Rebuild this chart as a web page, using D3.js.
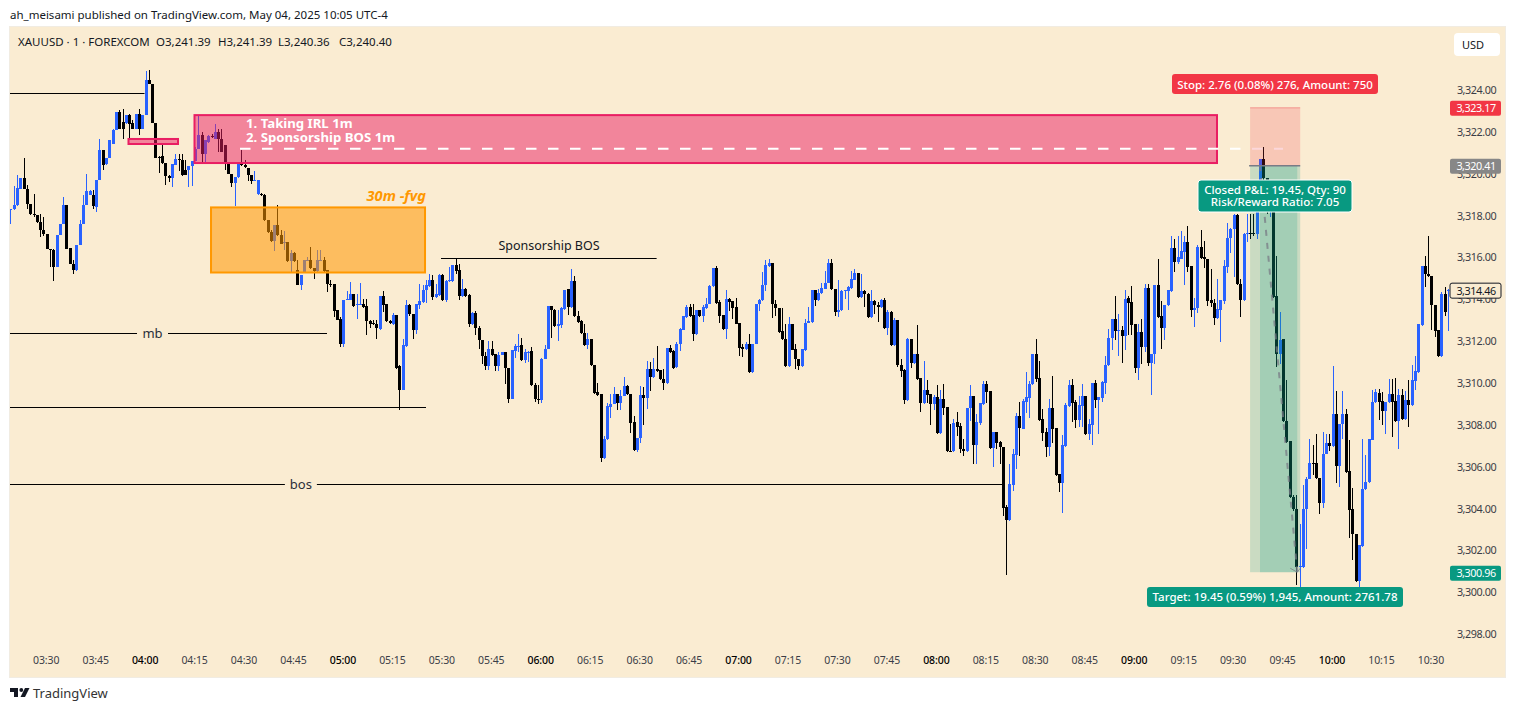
<!DOCTYPE html>
<html><head><meta charset="utf-8">
<script src="https://cdn.jsdelivr.net/npm/d3@7"></script>
<style>
html,body{margin:0;padding:0;background:#fff;overflow:hidden}
svg{display:block}
text{font-family:"Noto Sans",sans-serif}
</style></head><body>
<svg id="c" width="1515" height="711"></svg>
<script>
// OHLC rows [open, high, low, close], one small list per 15-minute block (1-minute bars)
const bars0319=[[3318.28,3318.33,3317.61,3318.33],[3318.30,3319.40,3318.25,3318.49],[3318.49,3319.92,3318.46,3319.33],[3319.25,3319.81,3319.25,3319.81],[3319.81,3320.77,3319.25,3319.25],[3319.29,3319.45,3318.33,3318.54],[3318.57,3318.57,3318.01,3318.06],[3318.06,3319.05,3317.93,3318.01],[3318.04,3318.04,3317.66,3317.71],[3317.71,3318.09,3316.98,3317.30],[3317.33,3317.93,3317.02,3317.10]];
const bars0330=[[3317.14,3317.14,3316.39,3316.42],[3316.40,3316.40,3315.54,3316.37],[3316.37,3316.40,3314.87,3315.54],[3315.54,3317.09,3315.54,3317.09],[3317.09,3317.61,3317.09,3317.61],[3317.61,3318.89,3317.61,3318.49],[3318.49,3318.52,3316.42,3316.42],[3316.45,3316.45,3315.67,3315.70],[3315.70,3315.86,3315.22,3315.38],[3315.38,3316.58,3315.35,3316.58],[3316.58,3317.77,3316.58,3317.61],[3317.61,3318.97,3317.61,3318.49],[3318.49,3320.00,3318.49,3319.16],[3319.00,3319.21,3318.97,3319.16],[3319.00,3319.21,3318.33,3318.44]];
const bars0345=[[3318.41,3319.72,3318.17,3319.72],[3319.72,3321.65,3319.72,3321.15],[3321.15,3321.15,3320.16,3320.40],[3320.45,3320.77,3320.40,3320.77],[3320.77,3321.60,3320.77,3321.60],[3321.44,3322.12,3321.44,3322.07],[3322.11,3322.95,3322.11,3322.95],[3322.95,3323.06,3322.12,3322.15],[3322.47,3323.11,3321.68,3322.15],[3322.42,3322.79,3322.39,3322.79],[3322.79,3322.87,3321.68,3322.39],[3322.42,3322.55,3322.12,3322.15],[3322.15,3322.87,3322.12,3322.87],[3322.87,3323.11,3321.84,3322.15],[3322.15,3322.79,3322.12,3322.79]];
const bars0400=[[3322.79,3324.89,3322.79,3324.46],[3324.46,3324.94,3324.27,3324.30],[3324.30,3324.30,3322.42,3322.42],[3322.42,3322.42,3320.75,3320.75],[3320.80,3320.83,3320.05,3320.77],[3320.83,3321.36,3320.48,3320.51],[3320.51,3320.51,3319.45,3319.89],[3319.89,3319.92,3319.61,3319.81],[3319.81,3320.45,3319.37,3320.45],[3320.40,3320.96,3320.40,3320.69],[3320.69,3320.96,3320.13,3320.64],[3320.64,3320.96,3319.89,3319.92],[3320.19,3320.64,3319.92,3319.95],[3320.16,3320.35,3319.37,3320.35],[3320.35,3320.59,3319.40,3320.59]];
const bars0415=[[3320.59,3321.28,3320.59,3321.20],[3321.20,3322.74,3321.20,3321.84],[3321.84,3322.00,3320.51,3320.96],[3320.96,3321.60,3320.56,3321.60],[3321.52,3321.84,3321.47,3321.79],[3321.79,3321.92,3321.72,3321.77],[3321.68,3322.39,3321.68,3322.00],[3322.00,3322.15,3321.04,3321.68],[3321.68,3322.15,3321.04,3321.04],[3321.36,3321.36,3320.16,3320.56],[3320.48,3320.48,3319.97,3319.97],[3320.00,3320.00,3319.37,3319.56],[3319.56,3319.84,3318.44,3319.84],[3319.84,3320.48,3319.81,3320.48],[3320.51,3321.12,3320.35,3320.40]];
const bars0430=[[3320.40,3320.64,3320.29,3320.32],[3320.29,3320.29,3319.65,3319.92],[3319.92,3319.92,3319.53,3319.65],[3319.69,3320.13,3319.65,3319.72],[3319.05,3319.69,3318.97,3319.69],[3319.05,3319.08,3318.94,3318.97],[3318.97,3319.05,3317.74,3317.77],[3317.81,3317.81,3317.18,3317.22],[3317.22,3317.30,3316.74,3316.77],[3316.77,3317.53,3316.31,3317.53],[3317.53,3318.49,3317.02,3317.06],[3317.06,3317.30,3316.63,3316.66],[3316.71,3317.26,3316.34,3316.74],[3316.74,3316.74,3315.80,3315.83],[3315.83,3316.34,3315.30,3316.21]];
const bars0445=[[3316.21,3316.26,3315.78,3315.81],[3315.38,3315.86,3314.67,3314.67],[3314.67,3315.18,3314.43,3315.18],[3315.30,3315.86,3315.27,3315.86],[3315.86,3316.02,3315.83,3315.89],[3315.89,3316.50,3315.47,3315.51],[3315.51,3315.51,3314.99,3315.34],[3315.35,3316.34,3315.30,3315.86],[3315.86,3316.34,3315.83,3315.88],[3315.86,3316.02,3315.32,3315.35],[3315.38,3315.38,3314.35,3314.75],[3314.75,3314.91,3314.59,3314.71],[3314.74,3314.74,3313.15,3313.44],[3313.47,3313.47,3312.99,3313.02],[3313.07,3313.15,3311.72,3311.88]];
const bars0500=[[3311.88,3313.98,3311.72,3313.98],[3313.98,3314.42,3313.95,3314.03],[3313.98,3314.85,3313.98,3314.23],[3314.23,3314.23,3313.65,3313.68],[3313.74,3314.26,3313.04,3313.77],[3313.74,3314.79,3313.71,3313.76],[3313.76,3314.03,3313.60,3313.63],[3313.66,3314.03,3312.27,3312.96],[3312.96,3312.99,3312.64,3312.83],[3312.86,3312.99,3312.78,3312.83],[3312.83,3312.99,3312.08,3312.62],[3312.59,3314.14,3312.54,3314.14],[3314.14,3314.42,3313.39,3313.74],[3313.76,3313.79,3312.93,3312.96],[3312.96,3312.99,3312.80,3312.86]];
const bars0515=[[3312.83,3313.36,3312.75,3313.23],[3313.23,3313.23,3310.68,3310.73],[3310.80,3310.84,3308.69,3309.65],[3309.65,3312.12,3309.65,3311.80],[3311.75,3313.95,3311.72,3313.71],[3313.71,3313.79,3313.19,3313.28],[3313.31,3313.31,3312.09,3312.52],[3312.52,3313.76,3312.36,3313.76],[3313.71,3314.75,3313.55,3313.90],[3313.87,3314.67,3313.82,3314.46],[3314.46,3314.91,3313.82,3314.67],[3314.64,3315.22,3314.61,3314.94],[3314.94,3315.15,3313.95,3314.11],[3314.11,3314.75,3314.08,3314.24],[3314.19,3315.19,3314.16,3315.15]];
const bars0530=[[3315.15,3315.19,3313.90,3313.95],[3313.95,3314.91,3313.87,3314.86],[3314.86,3315.54,3314.83,3314.91],[3314.87,3315.62,3314.84,3315.62],[3315.62,3315.91,3315.19,3315.34],[3315.38,3315.70,3313.95,3314.14],[3314.14,3314.99,3314.11,3314.51],[3314.51,3314.54,3314.11,3314.14],[3314.19,3314.27,3312.68,3312.80],[3312.80,3313.39,3312.77,3313.36],[3313.36,3313.42,3312.28,3312.64],[3312.64,3312.71,3311.61,3312.04],[3312.07,3312.07,3310.92,3311.27],[3311.31,3311.48,3310.61,3310.80],[3310.80,3311.99,3310.61,3311.64]];
const bars0545=[[3311.64,3312.01,3311.29,3311.32],[3311.37,3311.40,3310.57,3310.80],[3310.80,3311.48,3310.57,3311.35],[3311.35,3311.48,3311.32,3311.47],[3311.47,3311.48,3309.94,3310.72],[3310.73,3310.73,3309.04,3309.22],[3309.22,3311.56,3309.22,3311.56],[3311.51,3311.88,3311.19,3311.75],[3311.75,3312.36,3311.48,3311.78],[3311.80,3312.17,3311.05,3311.08],[3311.08,3311.64,3310.96,3311.47],[3311.47,3311.51,3311.00,3311.50],[3311.51,3311.72,3309.86,3309.89],[3309.92,3310.02,3309.09,3309.22],[3309.25,3309.89,3309.01,3309.23]];
const bars0600=[[3309.17,3311.19,3309.04,3311.16],[3311.16,3311.80,3311.13,3311.64],[3311.64,3313.66,3311.61,3313.66],[3313.66,3313.66,3312.17,3313.47],[3313.50,3313.55,3312.68,3312.71],[3312.71,3313.47,3312.01,3312.80],[3312.77,3313.63,3312.63,3313.58],[3313.52,3314.46,3313.49,3314.46],[3314.48,3314.48,3313.23,3313.63],[3313.63,3315.43,3313.60,3314.86],[3314.86,3315.10,3313.15,3313.19],[3313.22,3313.43,3312.88,3312.91],[3312.95,3313.00,3312.36,3312.39],[3312.41,3312.84,3311.77,3311.80],[3311.80,3312.41,3311.62,3312.09]];
const bars0615=[[3312.09,3312.09,3310.81,3310.84],[3310.88,3310.88,3309.49,3309.52],[3309.55,3310.02,3309.40,3309.43],[3309.46,3309.46,3306.22,3306.42],[3306.42,3307.45,3306.38,3307.34],[3307.32,3309.04,3307.29,3308.88],[3308.85,3309.46,3308.33,3309.01],[3309.01,3309.81,3308.98,3309.49],[3309.49,3309.49,3308.69,3309.04],[3309.04,3309.65,3308.69,3309.39],[3309.39,3310.29,3309.36,3309.84],[3309.84,3309.89,3309.44,3309.47],[3309.49,3309.49,3307.61,3308.09],[3308.12,3308.42,3306.75,3306.78],[3306.78,3307.39,3306.70,3307.39]];
const bars0630=[[3307.37,3309.86,3307.13,3309.41],[3309.41,3309.81,3307.98,3309.28],[3309.28,3311.03,3308.76,3310.68],[3310.68,3311.00,3309.60,3310.29],[3310.29,3311.19,3310.26,3310.68],[3310.68,3311.75,3310.54,3310.57],[3310.61,3310.64,3310.14,3310.17],[3310.21,3310.68,3309.65,3310.00],[3310.00,3311.69,3309.97,3311.69],[3311.69,3311.80,3311.45,3311.48],[3311.51,3311.56,3310.67,3310.73],[3310.76,3311.96,3310.73,3311.88],[3311.88,3312.63,3311.51,3312.56],[3312.55,3313.19,3312.52,3313.19],[3313.15,3313.71,3313.12,3313.63]];
const bars0645=[[3313.63,3313.79,3313.17,3313.20],[3313.23,3313.79,3312.01,3312.33],[3312.33,3313.50,3312.30,3313.47],[3313.47,3313.50,3313.16,3313.19],[3313.19,3313.71,3312.91,3313.63],[3313.58,3314.06,3313.55,3313.79],[3313.79,3314.67,3313.76,3314.64],[3314.64,3315.50,3314.61,3315.50],[3315.50,3315.59,3313.79,3313.82],[3313.87,3313.95,3312.87,3313.20],[3313.23,3313.26,3312.53,3312.56],[3312.56,3314.46,3312.09,3314.00],[3314.00,3314.06,3313.42,3313.87],[3313.90,3313.90,3313.07,3313.60],[3313.63,3314.06,3312.81,3312.84]];
const bars0700=[[3312.88,3312.88,3311.27,3311.67],[3311.70,3311.88,3311.24,3311.62],[3311.62,3311.96,3311.59,3311.88],[3311.88,3312.33,3310.50,3310.53],[3310.53,3311.88,3310.50,3311.88],[3311.88,3313.79,3311.85,3313.79],[3313.79,3314.01,3313.42,3313.98],[3313.95,3315.30,3313.92,3314.70],[3314.67,3315.86,3314.38,3315.62],[3315.59,3315.94,3315.56,3315.75],[3315.75,3315.75,3313.11,3313.79],[3313.79,3313.95,3313.20,3313.58],[3313.60,3313.60,3312.41,3312.44],[3312.47,3313.60,3312.07,3312.10],[3312.12,3312.80,3310.78,3310.81]];
const bars0715=[[3310.81,3313.15,3310.78,3312.80],[3312.80,3312.80,3311.56,3311.59],[3311.64,3311.88,3310.65,3311.15],[3311.16,3311.16,3310.61,3310.81],[3310.81,3311.61,3310.78,3311.61],[3311.56,3313.04,3311.53,3312.88],[3312.88,3313.63,3312.85,3312.95],[3312.91,3314.46,3312.88,3314.46],[3314.46,3314.46,3313.68,3313.95],[3313.95,3314.51,3313.92,3314.32],[3314.30,3314.79,3314.27,3314.54],[3314.51,3315.34,3314.48,3314.79],[3314.79,3315.94,3314.76,3315.75],[3315.75,3315.91,3314.45,3314.48],[3314.51,3314.51,3313.20,3313.39]];
const bars0730=[[3313.39,3314.91,3313.15,3313.50],[3313.47,3314.43,3313.44,3314.38],[3314.38,3314.46,3314.00,3314.43],[3314.40,3314.62,3313.47,3314.59],[3314.54,3315.34,3314.51,3314.95],[3314.94,3315.46,3314.91,3315.27],[3315.27,3315.27,3314.06,3314.11],[3314.11,3315.19,3314.08,3314.38],[3314.38,3314.43,3313.63,3314.27],[3314.27,3314.32,3313.11,3313.15],[3313.15,3314.43,3313.12,3313.90],[3313.90,3313.98,3313.28,3313.71],[3313.74,3313.87,3312.90,3313.63],[3313.63,3314.03,3313.60,3313.95],[3313.95,3314.08,3312.60,3312.63]];
const bars0745=[[3312.63,3313.50,3312.28,3313.39],[3313.39,3313.42,3311.79,3311.82],[3311.82,3313.12,3311.79,3313.00],[3313.00,3313.00,3310.76,3310.84],[3310.88,3311.16,3310.29,3310.57],[3310.61,3310.65,3309.00,3309.19],[3309.19,3312.17,3309.16,3312.12],[3312.12,3312.12,3310.72,3310.96],[3310.96,3311.37,3310.89,3311.37],[3311.37,3312.76,3310.16,3310.19],[3310.22,3310.22,3308.60,3309.04],[3309.04,3311.03,3309.01,3309.65],[3309.65,3310.13,3309.04,3309.43],[3309.46,3309.49,3307.98,3309.00],[3309.00,3309.41,3308.69,3309.33]];
const bars0800=[[3309.33,3309.92,3307.58,3307.61],[3307.61,3309.68,3307.58,3309.25],[3309.25,3309.97,3308.45,3308.81],[3308.84,3308.84,3306.70,3306.73],[3306.77,3308.06,3306.72,3306.75],[3306.75,3308.26,3306.72,3308.10],[3308.12,3308.63,3307.47,3307.90],[3307.93,3308.10,3306.65,3306.86],[3306.86,3307.34,3306.51,3306.75],[3306.73,3308.82,3306.70,3308.82],[3308.79,3309.92,3308.18,3309.36],[3309.36,3309.36,3306.13,3307.04],[3307.02,3308.50,3306.13,3308.12],[3308.09,3309.03,3308.01,3309.03],[3309.00,3310.10,3308.97,3309.97]];
const bars0815=[[3309.97,3310.08,3309.04,3309.57],[3309.60,3309.60,3306.86,3306.89],[3306.89,3307.67,3305.99,3307.67],[3307.67,3307.67,3306.83,3307.13],[3307.16,3307.21,3306.13,3306.94],[3306.96,3306.96,3303.63,3304.04],[3304.07,3304.15,3300.81,3303.45],[3303.45,3306.14,3303.42,3305.16],[3305.13,3306.86,3304.84,3306.59],[3306.56,3308.58,3305.89,3308.41],[3308.41,3309.08,3306.51,3307.85],[3307.82,3309.25,3307.78,3309.12],[3309.09,3310.51,3308.58,3309.31],[3309.28,3310.08,3308.33,3309.97],[3309.95,3311.37,3309.92,3311.37]];
const bars0830=[[3311.37,3312.09,3310.05,3310.17],[3310.22,3311.03,3308.18,3308.23],[3308.26,3308.74,3307.21,3307.61],[3307.64,3307.85,3306.46,3306.94],[3306.94,3309.25,3306.51,3308.79],[3308.79,3310.32,3307.13,3307.80],[3307.83,3307.83,3305.57,3305.60],[3305.63,3305.67,3304.79,3305.22],[3305.22,3307.50,3303.79,3307.02],[3306.99,3309.04,3306.96,3308.93],[3308.90,3310.13,3308.87,3309.89],[3309.89,3310.21,3308.14,3309.04],[3309.08,3309.17,3307.85,3308.22],[3308.22,3309.36,3307.90,3308.93],[3308.90,3309.94,3307.90,3309.36]];
const bars0845=[[3309.36,3309.39,3307.52,3307.55],[3307.55,3308.26,3307.29,3308.02],[3307.98,3309.98,3307.02,3309.98],[3309.98,3310.16,3308.81,3309.19],[3309.19,3309.33,3307.55,3309.31],[3309.28,3310.08,3309.08,3310.03],[3310.00,3311.27,3309.49,3310.88],[3310.84,3312.56,3310.81,3312.17],[3312.13,3313.07,3311.59,3313.04],[3313.04,3314.14,3312.04,3312.49],[3312.52,3313.31,3311.27,3312.55],[3312.55,3312.71,3310.94,3312.23],[3312.23,3314.43,3311.56,3314.03],[3314.05,3314.14,3312.28,3313.82],[3313.86,3314.62,3312.28,3312.76]];
const bars0900=[[3312.80,3312.80,3310.48,3310.72],[3310.72,3312.80,3310.13,3312.42],[3312.42,3313.07,3310.92,3311.70],[3311.70,3314.75,3311.49,3314.54],[3314.54,3314.75,3310.80,3310.94],[3310.94,3311.40,3309.41,3311.40],[3311.37,3314.67,3310.89,3314.67],[3314.67,3315.91,3313.12,3313.15],[3313.19,3313.92,3311.61,3312.61],[3312.61,3313.71,3312.04,3313.71],[3313.71,3314.43,3313.68,3314.43],[3314.38,3317.01,3314.35,3316.45],[3316.45,3316.86,3315.30,3315.78],[3315.78,3317.01,3315.70,3316.02],[3315.94,3317.25,3315.91,3316.29]];
const bars0915=[[3316.26,3317.01,3314.67,3316.72],[3316.72,3317.49,3315.30,3315.54],[3315.57,3315.57,3313.15,3313.50],[3313.50,3314.08,3312.67,3313.60],[3313.58,3316.58,3313.34,3316.50],[3316.50,3317.29,3315.94,3315.97],[3316.00,3316.77,3315.51,3315.91],[3315.94,3315.94,3313.66,3313.92],[3313.95,3315.46,3313.63,3313.82],[3313.84,3314.03,3312.75,3313.10],[3313.10,3314.98,3313.07,3313.52],[3313.49,3313.95,3311.96,3313.95],[3313.92,3315.86,3313.79,3315.57],[3315.54,3317.66,3315.27,3316.91],[3316.91,3317.42,3316.21,3317.34]];
const bars0930=[[3317.34,3318.09,3315.06,3318.03],[3318.03,3318.09,3314.70,3314.73],[3314.75,3314.98,3313.15,3313.95],[3313.95,3317.18,3313.92,3317.13],[3317.13,3318.09,3316.74,3317.18],[3317.18,3318.09,3316.86,3317.17],[3317.17,3318.09,3317.01,3317.13],[3317.10,3318.90,3316.86,3318.73],[3318.73,3320.69,3318.60,3320.69],[3320.69,3321.26,3319.45,3319.78],[3319.78,3319.80,3318.09,3318.49],[3318.49,3319.00,3317.93,3318.97],[3318.97,3319.10,3314.08,3314.11],[3314.14,3316.05,3310.76,3311.40],[3311.40,3313.39,3310.89,3312.07]];
const bars0945=[[3312.09,3312.09,3308.15,3308.18],[3308.18,3310.13,3307.15,3307.18],[3307.21,3307.21,3304.52,3304.55],[3304.55,3304.63,3303.88,3303.99],[3303.99,3304.63,3300.33,3301.21],[3301.21,3303.28,3300.25,3301.24],[3301.21,3305.11,3301.18,3303.99],[3303.99,3305.50,3302.08,3305.43],[3305.43,3307.31,3305.40,3306.19],[3306.19,3307.02,3305.59,3306.18],[3306.19,3307.58,3305.43,3305.46],[3305.46,3305.46,3303.75,3304.28],[3304.28,3307.66,3304.04,3306.62],[3306.62,3307.58,3306.59,3307.15],[3307.15,3307.58,3306.75,3306.99]];
const bars1000=[[3306.99,3310.80,3306.96,3308.53],[3308.53,3309.62,3305.22,3306.03],[3306.03,3308.06,3305.03,3308.06],[3308.06,3309.62,3307.34,3308.53],[3308.53,3308.77,3305.72,3305.75],[3305.78,3307.26,3302.61,3303.95],[3303.98,3305.00,3301.52,3302.80],[3302.80,3302.80,3300.51,3300.54],[3300.54,3302.27,3300.25,3302.24],[3302.21,3307.34,3302.18,3304.95],[3304.92,3306.54,3304.87,3305.27],[3305.27,3307.31,3305.24,3307.31],[3307.29,3309.65,3307.26,3309.09],[3309.09,3309.70,3309.06,3309.57],[3309.54,3309.70,3308.22,3309.09]];
const bars1015=[[3309.12,3309.57,3307.98,3308.65],[3308.65,3309.09,3307.55,3309.09],[3309.09,3310.17,3309.06,3309.49],[3309.49,3310.21,3307.42,3309.09],[3309.12,3310.25,3308.15,3308.18],[3308.18,3309.73,3306.83,3309.44],[3309.44,3309.73,3308.25,3308.28],[3308.28,3309.62,3308.25,3309.17],[3309.17,3310.13,3307.90,3308.93],[3308.93,3310.84,3308.90,3310.13],[3310.09,3311.27,3309.65,3310.56],[3310.52,3312.80,3310.49,3312.80],[3312.75,3315.57,3312.72,3315.57],[3315.57,3316.07,3314.58,3315.19],[3315.22,3317.01,3315.06,3315.09]];
const bars1030=[[3315.13,3315.13,3312.55,3313.71],[3313.74,3313.74,3312.19,3312.48],[3312.51,3312.51,3311.26,3311.29],[3311.29,3314.35,3311.26,3314.23],[3314.23,3314.58,3313.18,3313.37],[3314.40,3314.47,3312.48,3314.46]];

const firstBarMinute=199;   // 03:19, minutes since midnight
const priceTicks=[3298,3300,3302,3304,3306,3308,3310,3312,3314,3316,3318,3320,3322,3324];
const timeTicks=[210,225,240,255,270,285,300,315,330,345,360,375,390,405,420,435,450,465,480,495,510,525,540,555,570,585,600,615,630];
const stopPrice=3323.17, entryPrice=3320.41, targetPrice=3300.96, lastPrice=3314.46;
// drawings: minutes and prices
const pinkZone=[254.83,564.96,3322.80,3320.51];
const pinkSmall=[234.81,249.83,3321.66,3321.42];
const midDash=[268.63,584.97,3321.19];
const orangeZone=[259.84,324.75,3318.39,3315.28];
const hLines=[[198.87,239.67,3323.84],[198.87,325.05,3308.84],[329.6,395.0,3315.96]];
const labelledLines=[[198.87,295.02,3312.37,"mb",242.1,15.5],[198.87,500.05,3305.16,"bos",287.1,16]];
const posTime=[575.0,590.2,578.0,589.3];

const bars=[bars0319,bars0330,bars0345,bars0400,bars0415,bars0430,bars0445,bars0500,bars0515,bars0530,bars0545,bars0600,bars0615,bars0630,bars0645,bars0700,bars0715,bars0730,bars0745,bars0800,bars0815,bars0830,bars0845,bars0900,bars0915,bars0930,bars0945,bars1000,bars1015,bars1030].flat()
  .map((r,i)=>({t:firstBarMinute+i,o:r[0],h:r[1],l:r[2],c:r[3]}));

const W=1515,H=711;
const paneL=10,paneR=1505,paneT=27,paneB=677,plotR=1449.5;
const blue="#2962ff",ink="#131722",axisInk="#3a3d47",bg="#faecd2";
const x=d3.scaleLinear().domain([240,630]).range([145.6,145.6+390*3.297]);
const y=d3.scaleLinear().domain([3300,3324]).range([592.3,90]);
const svg=d3.select("#c");
svg.append("rect").attr("width",W).attr("height",H).attr("fill","#fff");
svg.append("rect").attr("x",paneL-1).attr("y",paneT-1).attr("width",paneR-paneL+2).attr("height",paneB-paneT+2).attr("fill","#f1ece2");
svg.append("rect").attr("x",paneL).attr("y",paneT).attr("width",paneR-paneL).attr("height",paneB-paneT).attr("fill",bg);
svg.append("clipPath").attr("id","plot").append("rect").attr("x",paneL).attr("y",paneT).attr("width",plotR-paneL).attr("height",paneB-paneT);

svg.append("text").attr("x",10).attr("y",19).attr("font-size",11.5).attr("fill",ink).text("ah_meisami published on TradingView.com, May 04, 2025 10:05 UTC-4");
[["XAUUSD · 1 · FOREXCOM",18],["O3,241.39",156],["H3,241.39",218],["L3,240.36",278],["C3,240.40",339]].forEach(([t,px])=>
  svg.append("text").attr("x",px).attr("y",46).attr("font-size",11.5).attr("fill",ink).text(t));

const plot=svg.append("g").attr("clip-path","url(#plot)");
// thin black lines under candles
plot.selectAll("line.h").data(hLines).join("line").attr("class","h")
  .attr("x1",d=>x(d[0])).attr("x2",d=>x(d[1])).attr("y1",d=>Math.round(y(d[2]))+.5).attr("y2",d=>Math.round(y(d[2]))+.5)
  .attr("stroke","#000").attr("stroke-width",1);
labelledLines.forEach(d=>{
  const yy=Math.round(y(d[2]))+.5, xm=x(d[4]), gap=d[5];
  plot.append("line").attr("x1",x(d[0])).attr("x2",xm-gap).attr("y1",yy).attr("y2",yy).attr("stroke","#000");
  plot.append("line").attr("x1",xm+gap).attr("x2",x(d[1])).attr("y1",yy).attr("y2",yy).attr("stroke","#000");
  plot.append("text").attr("x",xm).attr("y",yy+4.5).attr("text-anchor","middle").attr("font-size",13).attr("fill","#2a2e39").text(d[3]);
});
// candles
const candle=plot.append("g").attr("shape-rendering","crispEdges").selectAll("g").data(bars).join("g")
  .attr("fill",d=>d.c>=d.o?blue:"#000");
candle.append("rect").attr("x",d=>Math.round(x(d.t))).attr("width",1)
  .attr("y",d=>Math.round(y(d.h))).attr("height",d=>Math.max(1,Math.round(y(d.l))-Math.round(y(d.h))));
candle.append("rect").attr("x",d=>Math.round(x(d.t))-1).attr("width",3)
  .attr("y",d=>Math.round(y(Math.max(d.o,d.c)))).attr("height",d=>Math.max(1,Math.round(y(Math.min(d.o,d.c)))-Math.round(y(Math.max(d.o,d.c)))));

// zones
function zone(z,fill,stroke,sw){
  return svg.append("rect").attr("x",x(z[0])).attr("y",y(z[2])).attr("width",x(z[1])-x(z[0])).attr("height",y(z[3])-y(z[2]))
   .attr("fill",fill).attr("stroke",stroke).attr("stroke-width",sw);
}
zone(orangeZone,"rgba(255,152,0,.55)","#ff9800",2);
zone(pinkZone,"rgba(233,30,99,.5)","#e91e63",2);
zone(pinkSmall,"rgba(233,30,99,.5)","#e91e63",2);
svg.append("line").attr("x1",x(midDash[0])).attr("x2",x(midDash[1])).attr("y1",y(midDash[2])).attr("y2",y(midDash[2]))
  .attr("stroke","#fff").attr("stroke-width",2).attr("stroke-dasharray","10.5 11.5");
svg.append("text").attr("x",246).attr("y",128).attr("font-size",13.2).attr("font-weight",700).attr("fill","#fff").text("1. Taking IRL 1m");
svg.append("text").attr("x",246).attr("y",142).attr("font-size",13.2).attr("font-weight",700).attr("fill","#fff").text("2. Sponsorship BOS 1m");
svg.append("text").attr("x",426).attr("y",200.5).attr("text-anchor","end").attr("font-size",14.6).attr("font-weight",700).attr("font-style","italic").attr("fill","#ff9800").text("30m -fvg");
svg.append("text").attr("x",549).attr("y",250).attr("text-anchor","middle").attr("font-size",12.5).attr("fill","#131722").text("Sponsorship BOS");

// position tool
const pL=x(posTime[0]),pR=x(posTime[1]),pIL=x(posTime[2]),pIR=x(posTime[3]);
svg.append("rect").attr("x",pL).attr("width",pR-pL).attr("y",y(stopPrice)).attr("height",y(entryPrice)-y(stopPrice)).attr("fill","rgba(242,54,69,.2)");
svg.append("line").attr("x1",pL).attr("x2",pR).attr("y1",y(stopPrice)+.5).attr("y2",y(stopPrice)+.5).attr("stroke","rgba(242,54,69,.35)");
svg.append("rect").attr("x",pL).attr("width",pR-pL).attr("y",y(entryPrice)).attr("height",y(targetPrice)-y(entryPrice)).attr("fill","rgba(8,153,129,.2)");
svg.append("rect").attr("x",pIL).attr("width",pIR-pIL).attr("y",y(entryPrice)).attr("height",y(targetPrice)-y(entryPrice)).attr("fill","rgba(8,153,129,.2)");
svg.append("line").attr("x1",pL-1).attr("x2",pR).attr("y1",y(entryPrice)+.5).attr("y2",y(entryPrice)+.5).attr("stroke","#787b86").attr("stroke-width",1.5);
svg.append("line").attr("x1",pIL).attr("x2",pIR).attr("y1",y(entryPrice)).attr("y2",y(targetPrice)).attr("stroke","rgba(120,123,134,.75)").attr("stroke-width",2).attr("stroke-dasharray","6 7");
svg.append("path").attr("d",d3.line()([[pIR-7,y(targetPrice)-4],[pIR,y(targetPrice)],[pIR+3,y(targetPrice)-4]])).attr("fill","none").attr("stroke","rgba(120,123,134,.75)").attr("stroke-width",1);

function tag(x0,y0,w,h,fill,lines,stroke){
  svg.append("rect").attr("x",x0).attr("y",y0).attr("width",w).attr("height",h).attr("rx",3).attr("fill",fill).attr("stroke",stroke||"none");
  lines.forEach(([t,ty])=>svg.append("text").attr("x",x0+w/2).attr("y",ty).attr("text-anchor","middle").attr("font-size",11.5).attr("font-weight",500).attr("fill","#fff").text(t));
}
tag(1172,74,206,20,"#f23645",[["Stop: 2.76 (0.08%) 276, Amount: 750",88.5]]);
tag(1198,180,154,32,"#089981",[["Closed P&L: 19.45, Qty: 90",193.5],["Risk/Reward Ratio: 7.05",206]],"#fff");
tag(1147,587,256,20,"#089981",[["Target: 19.45 (0.59%) 1,945, Amount: 2761.78",601]]);

// axes
const yAxis=d3.axisRight(y).tickValues(priceTicks).tickFormat(d3.format(",.2f")).tickSize(0).tickPadding(0);
const gy=svg.append("g").attr("transform","translate(1476.5,0)").call(yAxis);
gy.select(".domain").remove();
gy.selectAll("text").attr("text-anchor","middle").attr("font-size",10.8).attr("letter-spacing","-.45").attr("font-family",'"Noto Sans",sans-serif').attr("fill",axisInk);
const xAxis=d3.axisBottom(x).tickValues(timeTicks).tickFormat(m=>d3.format("02")(Math.floor(m/60))+":"+d3.format("02")(m%60)).tickSize(0).tickPadding(0);
const gx=svg.append("g").attr("transform","translate(-1,657)").call(xAxis);
gx.select(".domain").remove();
gx.selectAll("text").attr("font-size",10.5).attr("letter-spacing","-.1").attr("font-family",'"Noto Sans",sans-serif')
  .attr("fill",d=>d%60===0?"#000":axisInk).attr("font-weight",d=>d%60===0?500:400);

// price badges
function badge(p,fill,txt,stroke){
  const yy=y(p)+1;
  svg.append("rect").attr("x",1450).attr("y",yy-7.5).attr("width",51).attr("height",15).attr("rx",2).attr("fill",fill).attr("stroke",stroke||"none");
  svg.append("text").attr("x",1476).attr("y",yy+4).attr("text-anchor","middle").attr("font-size",10.8).attr("letter-spacing","-.45").attr("fill",txt).text(d3.format(",.2f")(p));
}
badge(stopPrice,"#f23645","#fff");
badge(entryPrice,"#878787","#fff");
badge(lastPrice,bg,"#131722","#131722");
badge(targetPrice,"#089981","#fff");

// USD button
svg.append("rect").attr("x",1454).attr("y",33).attr("width",46).attr("height",23).attr("rx",4).attr("fill","#fff");
svg.append("text").attr("x",1473).attr("y",49).attr("text-anchor","middle").attr("font-size",11).attr("fill",ink).text("USD");

// footer logo
const logo=svg.append("g").attr("fill","#131722");
logo.append("path").attr("d","M10 688H18V697H14V692H10Z");
logo.append("circle").attr("cx",21.3).attr("cy",690).attr("r",1.9);
logo.append("path").attr("d","M25 688H29.5L25 697H20.5Z");
svg.append("text").attr("x",33).attr("y",698).attr("font-size",13).attr("fill","#333").text("TradingView");
</script></body></html>
